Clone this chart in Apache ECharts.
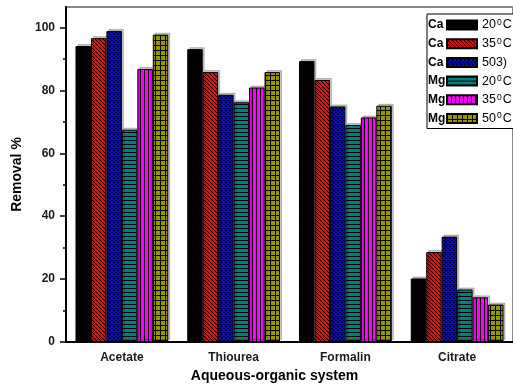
<!DOCTYPE html>
<html><head><meta charset="utf-8">
<script src="https://cdn.jsdelivr.net/npm/echarts@6/dist/echarts.min.js"></script>
<style>html,body{margin:0;padding:0;background:#fff}#c{width:513px;height:389px}</style>
</head><body><div id="c"></div>
<script>
const categories = ['Acetate', 'Thiourea', 'Formalin', 'Citrate'];
const seriesNames = ['Ca 20°C', 'Ca 35°C', 'Ca 503)', 'Mg 20°C', 'Mg 35°C', 'Mg 50°C'];
const caAt20 = [94.1, 93.1, 89.3, 20.2];
const caAt35 = [96.6, 85.8, 83.3, 28.6];
const caAt50 = [98.9, 78.6, 74.9, 33.5];
const mgAt20 = [67.5, 76.2, 69.0, 16.7];
const mgAt35 = [86.8, 80.9, 71.4, 14.2];
const mgAt50 = [97.7, 85.8, 75.1, 11.9];
const yTicks = [0, 20, 40, 60, 80, 100];
const yMinorTicks = [10, 30, 50, 70, 90];
const yMax = 106.5;

function pat(bg, size, draw) {
  const c = document.createElement('canvas');
  c.width = c.height = size;
  const g = c.getContext('2d');
  g.fillStyle = bg; g.fillRect(0, 0, size, size);
  g.fillStyle = '#000';
  draw(g, size);
  return { image: c, repeat: 'repeat' };
}
const fills = [
  '#000000',
  pat('#ff0000', 4, (g, s) => { for (let i = 0; i < s; i++) g.fillRect(i, i, 1, 1); }),
  pat('#0000ff', 4, (g, s) => { for (let i = 0; i < s; i += 2) { g.fillRect(i, i, 1, 1); g.fillRect(s - 1 - i, i, 1, 1); } g.fillRect(1,1,1,1); }),
  pat('#008080', 4, (g, s) => { g.fillRect(0, 0, s, 1); }),
  pat('#ff00ff', 4, (g, s) => { g.fillRect(0, 0, 1, s); }),
  pat('#959500', 5, (g, s) => { g.fillRect(0, 0, s, 1); g.fillRect(0, 0, 1, s); })
];
const values = [caAt20, caAt35, caAt50, mgAt20, mgAt35, mgAt50];

const font = 'Arial, "Liberation Sans", sans-serif';
const series = seriesNames.map((n, i) => ({
  name: n, type: 'bar', data: values[i],
  barGap: '0%', barCategoryGap: '17%',
  itemStyle: { color: fills[i], borderColor: '#000', borderWidth: 1,
    shadowColor: 'rgba(0,0,0,0.22)', shadowOffsetX: 2, shadowOffsetY: -2, shadowBlur: 0 },
  emphasis: { disabled: true }
}));

const rowCenter0 = 25, rowPitch = 18.7;
const prefixes = seriesNames.map(n => n.split(' ')[0]);

const chart = echarts.init(document.getElementById('c'), null, { renderer: 'canvas' });
chart.setOption({
  animation: false,
  backgroundColor: '#fff',
  textStyle: { fontFamily: font },
  grid: { left: 66, top: 7, bottom: 47, width: 456, show: true, borderColor: '#888', borderWidth: 2, containLabel: false },
  legend: {
    orient: 'vertical', left: 427, top: 14,
    padding: [4, 3, 3, 19],
    icon: 'rect',
    itemWidth: 30, itemHeight: 9, itemGap: 4.7,
    borderColor: '#000', borderWidth: 1, backgroundColor: '#fff',
    selectedMode: false,
    formatter: name => {
      const rest = name.split(' ')[1];
      return rest.includes('°') ? '{n|' + rest.replace('°', '}{s|0}{n|') + '}' : '{n|' + rest + '}';
    },
    textStyle: {
      fontFamily: font, color: '#000', lineHeight: 14,
      rich: { n: { fontSize: 12.5, fontFamily: font, color: '#000', lineHeight: 14 },
              s: { fontSize: 8.5, fontFamily: font, color: '#000', verticalAlign: 'top', lineHeight: 10, padding: [0, 1, 0, 1] } }
    }
  },
  graphic: prefixes.map((p, i) => ({
    type: 'text', x: 428, y: rowCenter0 + i * rowPitch, z: 100,
    style: { text: p, font: 'bold 12px ' + font, fill: '#000', verticalAlign: 'middle', align: 'left' }
  })),
  xAxis: [
    { type: 'category', data: categories,
      axisLine: { lineStyle: { color: '#000', width: 2 } },
      axisTick: { alignWithLabel: true, length: 6, lineStyle: { color: '#000', width: 1.5 } },
      axisLabel: { color: '#1a1a1a', fontSize: 12, fontWeight: 'bold', margin: 10 },
      name: 'Aqueous-organic system', nameLocation: 'middle', nameGap: 27,
      nameTextStyle: { fontSize: 14, fontWeight: 'bold', color: '#000', padding: [0, 30, 0, 0] } },
    { type: 'category', data: categories, position: 'bottom',
      axisLine: { show: false },
      axisTick: { length: 3, lineStyle: { color: '#000', width: 1.5 } },
      axisLabel: { show: false } }
  ],
  yAxis: [
    { type: 'value', min: 0, max: yMax,
      axisLine: { show: true, lineStyle: { color: '#000', width: 2 } },
      axisTick: { show: true, length: 6, customValues: yTicks, lineStyle: { color: '#000', width: 1.5 } },
      axisLabel: { customValues: yTicks, color: '#1a1a1a', fontSize: 12, fontWeight: 'bold', margin: 11 },
      splitLine: { show: false },
      name: 'Removal %', nameLocation: 'middle', nameGap: 41, nameRotate: 90,
      nameTextStyle: { fontSize: 14, fontWeight: 'bold', color: '#000' } },
    { type: 'value', min: 0, max: yMax, position: 'left',
      axisLine: { show: false },
      axisTick: { show: true, length: 3, customValues: yMinorTicks, lineStyle: { color: '#000', width: 1.5 } },
      axisLabel: { show: false }, splitLine: { show: false } }
  ],
  series: series
});
</script></body></html>
